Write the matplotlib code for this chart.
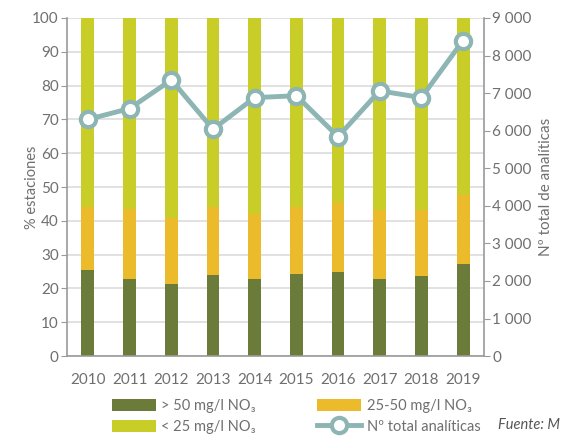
import numpy as np
import matplotlib.pyplot as plt
from matplotlib.ticker import FuncFormatter

plt.rcParams['font.family'] = ['Lato', 'DejaVu Sans']

# datos
years = ['2010', '2011', '2012', '2013', '2014', '2015', '2016', '2017', '2018', '2019']
mayor_50 = [25.6, 22.9, 21.3, 23.9, 22.8, 24.3, 24.9, 22.9, 23.8, 27.1]
entre_25_50 = [18.6, 20.7, 19.5, 20.3, 19.1, 19.8, 20.7, 20.3, 19.4, 20.4]
menor_25 = [100 - a - b for a, b in zip(mayor_50, entre_25_50)]
analiticas = [6300, 6590, 7350, 6040, 6880, 6930, 5840, 7060, 6880, 8400]

c_oscuro = '#6b7b3a'
c_naranja = '#ecbb2c'
c_amarillo = '#c8cd27'
c_linea = '#8db5b3'
c_texto = '#6f6f6f'
c_eje = '#9a9a9a'

fig = plt.figure(figsize=(5.64, 4.38), dpi=100)
ax = fig.add_axes([0.119, 0.187, 0.739, 0.772])
x = np.arange(len(years))
w = 0.31

b1 = ax.bar(x, mayor_50, w, color=c_oscuro, label='> 50 mg/l NO₃', zorder=2)
b2 = ax.bar(x, entre_25_50, w, bottom=mayor_50, color=c_naranja, label='25-50 mg/l NO₃', zorder=2)
b3 = ax.bar(x, menor_25, w, bottom=np.array(mayor_50) + np.array(entre_25_50),
            color=c_amarillo, label='< 25 mg/l NO₃', zorder=2)

ax.set_ylim(0, 100)
ax.set_xlim(-0.5, len(years) - 0.5)
ax.set_yticks(range(0, 101, 10))
ax.set_xticks(x)
ax.set_xticklabels(years)
ax.grid(axis='y', color='#dcdcdc', linewidth=1.2, zorder=0)
ax.set_axisbelow(True)
ax.set_ylabel('% estaciones', color=c_texto, fontsize=10.5)
ax.yaxis.set_label_coords(-0.068, 0.5)
ax.tick_params(axis='y', colors=c_eje, labelcolor=c_texto, labelsize=11, length=4, pad=2)
ax.tick_params(axis='x', length=0, labelcolor=c_texto, labelsize=11, pad=12)
for s in ['top', 'right']:
    ax.spines[s].set_visible(False)
for s in ['left', 'bottom']:
    ax.spines[s].set_color(c_eje)
    ax.spines[s].set_linewidth(1.2)

ax2 = ax.twinx()
l1, = ax2.plot(x, analiticas, color=c_linea, linewidth=3.5, marker='o', markersize=11,
               markerfacecolor='white', markeredgecolor=c_linea, markeredgewidth=3,
               label='Nº total analíticas', zorder=3)
ax2.set_ylim(0, 9000)
ax2.set_yticks(range(0, 9001, 1000))
ax2.yaxis.set_major_formatter(FuncFormatter(lambda v, p: f'{int(v):,}'.replace(',', ' ')))
ax2.set_ylabel('Nº total de analíticas', color=c_texto, fontsize=11)
ax2.yaxis.set_label_coords(1.132, 0.5)
ax2.tick_params(axis='y', colors=c_eje, labelcolor=c_texto, labelsize=11, length=4, pad=2)
for s in ['top', 'left', 'bottom']:
    ax2.spines[s].set_visible(False)
ax2.spines['right'].set_color(c_eje)
ax2.spines['right'].set_linewidth(1.2)

fig.legend([b1, b3, b2, l1], [b1.get_label(), b3.get_label(), b2.get_label(), l1.get_label()],
           ncol=2, loc='lower left', bbox_to_anchor=(0.175, -0.02), frameon=False,
           fontsize=10.5, labelcolor=c_texto, handlelength=3.0, handleheight=0.9,
           columnspacing=4.2, handletextpad=0.4, labelspacing=0.45)

fig.text(0.883, 0.02, 'Fuente: M', fontsize=10.5, style='italic', color='#555555')

fig.savefig('out.png', dpi=100)
